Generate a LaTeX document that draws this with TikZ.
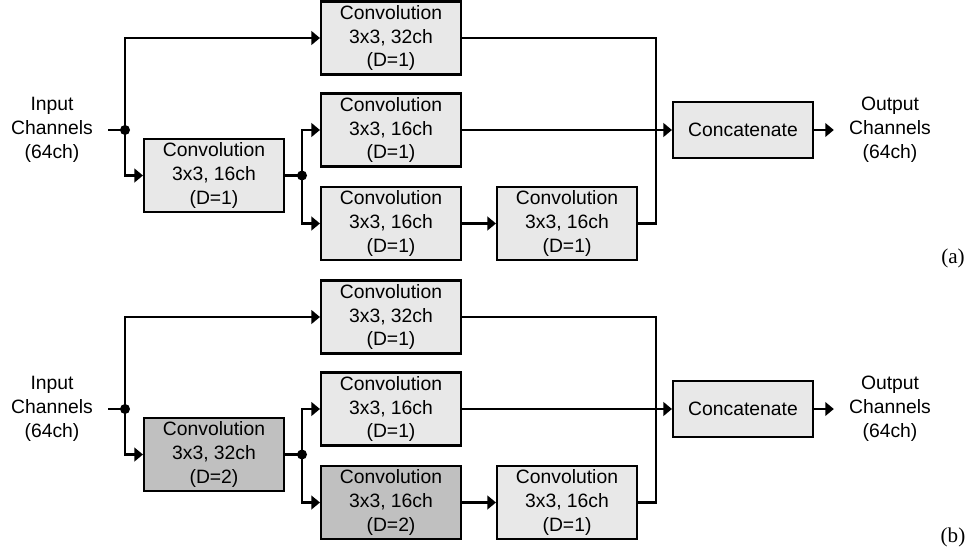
\documentclass[tikz,border=0pt]{standalone}
\usepackage{fontspec}
\setmainfont{Liberation Sans}
\newfontfamily\tagfont{Liberation Serif}
\usetikzlibrary{arrows.meta,positioning}
\definecolor{convlight}{HTML}{E8E8E8}
\definecolor{convdark}{HTML}{C0C0C0}
\tikzstyle{conv} = [draw,line width=1.2pt,rectangle,fill=convlight,align=center,inner sep=0,minimum width=2.8cm,minimum height=1.46cm,font=\fontsize{11}{13.6}\selectfont]
\tikzstyle{convd} = [conv,fill=convdark]
\tikzstyle{concat} = [conv,minimum height=1.12cm]
\tikzstyle{io} = [align=center,inner sep=0.3cm,font=\fontsize{11}{13.6}\selectfont]
\tikzstyle{link} = [line width=1.2pt]
\tikzstyle{flow} = [link,-{Triangle[length=0.17cm,width=0.27cm]}]
\tikzstyle{dot} = [circle,fill,inner sep=0,minimum size=0.2cm]
\tikzstyle{tag} = [font=\tagfont\fontsize{12}{14}\selectfont]
\def \sep {279}

\begin{document}
\begin{tikzpicture}[x=0.02cm,y=-0.02cm]
  \useasboundingbox (0,0) rectangle (972,554);

  % (a)
  \begin{scope}
    \node[io] (ain) at (52,130) {Input\\Channels\\(64ch)};
    \node[dot] (ad1) at (125,130) {};
    \node[conv] (ac0) at (214,175.5) {Convolution\\3x3, 16ch\\(D=1)};
    \node[dot] (ad2) at (302,175.5) {};
    \node[conv] (ac1) at (391,38) {Convolution\\3x3, 32ch\\(D=1)};
    \node[conv] (ac2) at (391,130) {Convolution\\3x3, 16ch\\(D=1)};
    \node[conv] (ac3) at (391,223.5) {Convolution\\3x3, 16ch\\(D=1)};
    \node[conv] (ac4) at (567,223.5) {Convolution\\3x3, 16ch\\(D=1)};
    \coordinate (am) at (656,130);
    \node[concat] (acat) at (743,130) {Concatenate};
    \node[io] (aout) at (890,130) {Output\\Channels\\(64ch)};
    \node[tag] (alab) at (953,258) {(a)};
    \draw[link] (ain) -- (ad1.center);
    \draw[flow] (ad1.center) |- (ac1.west);
    \draw[flow] (ad1.center) |- (ac0.west);
    \draw[link] (ac0.east) -- (ad2.center);
    \draw[flow] (ad2.center) |- (ac2.west);
    \draw[flow] (ad2.center) |- (ac3.west);
    \draw[flow] (ac3.east) -- (ac4.west);
    \draw[link] (ac1.east) -| (am |- ac4.east) -- (ac4.east);
    \draw[flow] (ac2.east) -- (acat.west);
    \draw[flow] (acat.east) -- (aout.west);
  \end{scope}

  % (b)
  \begin{scope}[yshift=-\sep*0.02cm]
    \node[io] (bin) at (52,130) {Input\\Channels\\(64ch)};
    \node[dot] (bd1) at (125,130) {};
    \node[convd] (bc0) at (214,175.5) {Convolution\\3x3, 32ch\\(D=2)};
    \node[dot] (bd2) at (302,175.5) {};
    \node[conv] (bc1) at (391,38) {Convolution\\3x3, 32ch\\(D=1)};
    \node[conv] (bc2) at (391,130) {Convolution\\3x3, 16ch\\(D=1)};
    \node[convd] (bc3) at (391,223.5) {Convolution\\3x3, 16ch\\(D=2)};
    \node[conv] (bc4) at (567,223.5) {Convolution\\3x3, 16ch\\(D=1)};
    \coordinate (bm) at (656,130);
    \node[concat] (bcat) at (743,130) {Concatenate};
    \node[io] (bout) at (890,130) {Output\\Channels\\(64ch)};
    \node[tag] (blab) at (953,258) {(b)};
    \draw[link] (bin) -- (bd1.center);
    \draw[flow] (bd1.center) |- (bc1.west);
    \draw[flow] (bd1.center) |- (bc0.west);
    \draw[link] (bc0.east) -- (bd2.center);
    \draw[flow] (bd2.center) |- (bc2.west);
    \draw[flow] (bd2.center) |- (bc3.west);
    \draw[flow] (bc3.east) -- (bc4.west);
    \draw[link] (bc1.east) -| (bm |- bc4.east) -- (bc4.east);
    \draw[flow] (bc2.east) -- (bcat.west);
    \draw[flow] (bcat.east) -- (bout.west);
  \end{scope}
\end{tikzpicture}
\end{document}
